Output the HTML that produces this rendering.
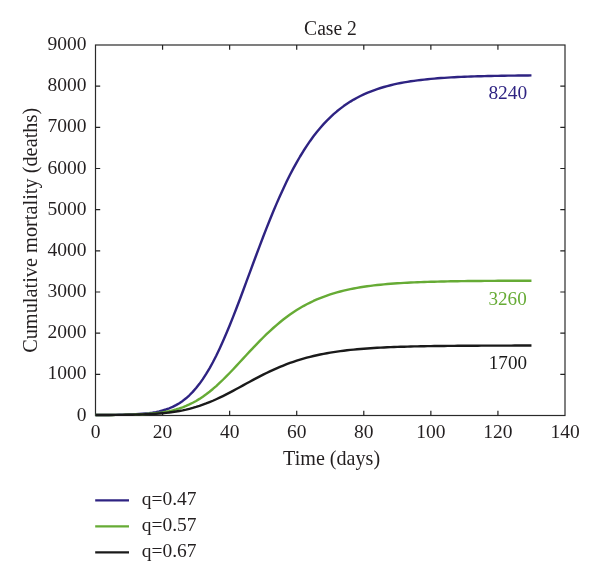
<!DOCTYPE html>
<html lang="en">
<head>
<meta charset="utf-8">
<title>Case 2</title>
<style>
html,body{margin:0;padding:0;background:#fff;}
body{width:600px;height:583px;overflow:hidden;}
svg{display:block;will-change:transform;}
text{font-family:"Liberation Serif", "DejaVu Serif", serif;font-size:19.5px;fill:#231f20;}
</style>
</head>
<body>
<svg width="600" height="583" viewBox="0 0 600 583">
<rect x="0" y="0" width="600" height="583" fill="#ffffff"/>

<rect x="95.5" y="45.0" width="469.5" height="370.5" fill="none" stroke="#2a2a2a" stroke-width="1.2"/>
<path d="M162.57,415.5 V410.8 M162.57,45.0 V49.7 M229.64,415.5 V410.8 M229.64,45.0 V49.7 M296.71,415.5 V410.8 M296.71,45.0 V49.7 M363.79,415.5 V410.8 M363.79,45.0 V49.7 M430.86,415.5 V410.8 M430.86,45.0 V49.7 M497.93,415.5 V410.8 M497.93,45.0 V49.7 M95.5,374.33 H100.2 M565.0,374.33 H560.3 M95.5,333.17 H100.2 M565.0,333.17 H560.3 M95.5,292.00 H100.2 M565.0,292.00 H560.3 M95.5,250.83 H100.2 M565.0,250.83 H560.3 M95.5,209.67 H100.2 M565.0,209.67 H560.3 M95.5,168.50 H100.2 M565.0,168.50 H560.3 M95.5,127.33 H100.2 M565.0,127.33 H560.3 M95.5,86.17 H100.2 M565.0,86.17 H560.3" stroke="#222222" stroke-width="1.2" fill="none"/>
<g fill="none" stroke-width="2.4" stroke-linejoin="round" stroke-linecap="butt">
<path d="M95.50,415.00 L98.85,414.99 L102.21,414.97 L105.56,414.96 L108.91,414.93 L112.27,414.90 L115.62,414.86 L118.97,414.81 L122.33,414.75 L125.68,414.67 L129.04,414.57 L132.39,414.44 L135.74,414.27 L139.10,414.07 L142.45,413.82 L145.80,413.50 L149.16,413.12 L152.51,412.64 L155.86,412.06 L159.22,411.36 L162.57,410.51 L165.93,409.49 L169.28,408.27 L172.63,406.84 L175.99,405.15 L179.34,403.18 L182.69,400.90 L186.05,398.28 L189.40,395.28 L192.75,391.89 L196.11,388.08 L199.46,383.83 L202.81,379.12 L206.17,373.95 L209.52,368.32 L212.88,362.22 L216.23,355.68 L219.58,348.71 L222.94,341.33 L226.29,333.58 L229.64,325.50 L233.00,317.13 L236.35,308.52 L239.70,299.70 L243.06,290.75 L246.41,281.70 L249.76,272.61 L253.12,263.52 L256.47,254.49 L259.82,245.56 L263.18,236.77 L266.53,228.15 L269.89,219.73 L273.24,211.56 L276.59,203.64 L279.95,195.99 L283.30,188.64 L286.65,181.59 L290.01,174.84 L293.36,168.42 L296.71,162.30 L300.07,156.50 L303.42,151.01 L306.77,145.83 L310.13,140.94 L313.48,136.33 L316.84,132.01 L320.19,127.95 L323.54,124.15 L326.90,120.60 L330.25,117.28 L333.60,114.18 L336.96,111.29 L340.31,108.59 L343.66,106.09 L347.02,103.76 L350.37,101.60 L353.73,99.59 L357.08,97.72 L360.43,96.00 L363.79,94.40 L367.14,92.91 L370.49,91.54 L373.85,90.27 L377.20,89.10 L380.55,88.01 L383.91,87.01 L387.26,86.08 L390.61,85.22 L393.97,84.43 L397.32,83.70 L400.68,83.03 L404.03,82.41 L407.38,81.83 L410.74,81.31 L414.09,80.82 L417.44,80.37 L420.80,79.95 L424.15,79.57 L427.50,79.22 L430.86,78.89 L434.21,78.59 L437.56,78.32 L440.92,78.06 L444.27,77.83 L447.62,77.61 L450.98,77.41 L454.33,77.23 L457.69,77.06 L461.04,76.91 L464.39,76.76 L467.75,76.63 L471.10,76.51 L474.45,76.40 L477.81,76.30 L481.16,76.20 L484.51,76.11 L487.87,76.03 L491.22,75.96 L494.57,75.89 L497.93,75.83 L501.28,75.77 L504.64,75.72 L507.99,75.67 L511.34,75.62 L514.70,75.58 L518.05,75.54 L521.40,75.51 L524.76,75.47 L528.11,75.44 L531.46,75.42" stroke="#2e2382"/>
<path d="M95.50,415.00 L98.85,414.99 L102.21,414.98 L105.56,414.97 L108.91,414.95 L112.27,414.93 L115.62,414.90 L118.97,414.87 L122.33,414.83 L125.68,414.77 L129.04,414.71 L132.39,414.62 L135.74,414.52 L139.10,414.40 L142.45,414.24 L145.80,414.05 L149.16,413.82 L152.51,413.54 L155.86,413.21 L159.22,412.81 L162.57,412.33 L165.93,411.77 L169.28,411.11 L172.63,410.34 L175.99,409.45 L179.34,408.43 L182.69,407.26 L186.05,405.93 L189.40,404.44 L192.75,402.78 L196.11,400.93 L199.46,398.90 L202.81,396.69 L206.17,394.29 L209.52,391.70 L212.88,388.95 L216.23,386.03 L219.58,382.96 L222.94,379.75 L226.29,376.42 L229.64,372.99 L233.00,369.48 L236.35,365.90 L239.70,362.29 L243.06,358.65 L246.41,355.02 L249.76,351.40 L253.12,347.83 L256.47,344.31 L259.82,340.86 L263.18,337.49 L266.53,334.22 L269.89,331.05 L273.24,327.99 L276.59,325.06 L279.95,322.24 L283.30,319.55 L286.65,316.99 L290.01,314.56 L293.36,312.25 L296.71,310.08 L300.07,308.02 L303.42,306.08 L306.77,304.26 L310.13,302.56 L313.48,300.96 L316.84,299.46 L320.19,298.07 L323.54,296.76 L326.90,295.55 L330.25,294.42 L333.60,293.37 L336.96,292.40 L340.31,291.49 L343.66,290.65 L347.02,289.87 L350.37,289.15 L353.73,288.49 L357.08,287.87 L360.43,287.30 L363.79,286.77 L367.14,286.29 L370.49,285.84 L373.85,285.42 L377.20,285.04 L380.55,284.69 L383.91,284.36 L387.26,284.06 L390.61,283.79 L393.97,283.53 L397.32,283.30 L400.68,283.08 L404.03,282.89 L407.38,282.70 L410.74,282.53 L414.09,282.38 L417.44,282.24 L420.80,282.11 L424.15,281.98 L427.50,281.87 L430.86,281.77 L434.21,281.68 L437.56,281.59 L440.92,281.51 L444.27,281.44 L447.62,281.37 L450.98,281.31 L454.33,281.25 L457.69,281.20 L461.04,281.15 L464.39,281.11 L467.75,281.07 L471.10,281.03 L474.45,281.00 L477.81,280.96 L481.16,280.94 L484.51,280.91 L487.87,280.88 L491.22,280.86 L494.57,280.84 L497.93,280.82 L501.28,280.80 L504.64,280.79 L507.99,280.77 L511.34,280.76 L514.70,280.75 L518.05,280.73 L521.40,280.72 L524.76,280.71 L528.11,280.71 L531.46,280.70" stroke="#66ab35"/>
<path d="M95.50,415.00 L98.85,414.99 L102.21,414.98 L105.56,414.97 L108.91,414.95 L112.27,414.93 L115.62,414.91 L118.97,414.88 L122.33,414.84 L125.68,414.80 L129.04,414.75 L132.39,414.69 L135.74,414.61 L139.10,414.52 L142.45,414.42 L145.80,414.29 L149.16,414.14 L152.51,413.96 L155.86,413.74 L159.22,413.50 L162.57,413.21 L165.93,412.87 L169.28,412.49 L172.63,412.05 L175.99,411.54 L179.34,410.97 L182.69,410.33 L186.05,409.61 L189.40,408.80 L192.75,407.92 L196.11,406.94 L199.46,405.88 L202.81,404.72 L206.17,403.48 L209.52,402.15 L212.88,400.74 L216.23,399.24 L219.58,397.68 L222.94,396.05 L226.29,394.36 L229.64,392.62 L233.00,390.84 L236.35,389.03 L239.70,387.20 L243.06,385.37 L246.41,383.53 L249.76,381.70 L253.12,379.89 L256.47,378.11 L259.82,376.36 L263.18,374.65 L266.53,372.99 L269.89,371.38 L273.24,369.82 L276.59,368.33 L279.95,366.89 L283.30,365.52 L286.65,364.21 L290.01,362.97 L293.36,361.79 L296.71,360.68 L300.07,359.62 L303.42,358.63 L306.77,357.70 L310.13,356.82 L313.48,356.00 L316.84,355.23 L320.19,354.51 L323.54,353.84 L326.90,353.22 L330.25,352.64 L333.60,352.10 L336.96,351.59 L340.31,351.13 L343.66,350.69 L347.02,350.29 L350.37,349.92 L353.73,349.58 L357.08,349.26 L360.43,348.96 L363.79,348.69 L367.14,348.44 L370.49,348.21 L373.85,347.99 L377.20,347.80 L380.55,347.61 L383.91,347.45 L387.26,347.29 L390.61,347.15 L393.97,347.02 L397.32,346.90 L400.68,346.78 L404.03,346.68 L407.38,346.59 L410.74,346.50 L414.09,346.42 L417.44,346.35 L420.80,346.28 L424.15,346.22 L427.50,346.16 L430.86,346.10 L434.21,346.06 L437.56,346.01 L440.92,345.97 L444.27,345.93 L447.62,345.90 L450.98,345.87 L454.33,345.84 L457.69,345.81 L461.04,345.78 L464.39,345.76 L467.75,345.74 L471.10,345.72 L474.45,345.70 L477.81,345.69 L481.16,345.67 L484.51,345.66 L487.87,345.64 L491.22,345.63 L494.57,345.62 L497.93,345.61 L501.28,345.60 L504.64,345.59 L507.99,345.59 L511.34,345.58 L514.70,345.57 L518.05,345.57 L521.40,345.56 L524.76,345.55 L528.11,345.55 L531.46,345.55" stroke="#1a1a1a"/>
</g>
<text x="95.50" y="438.3" text-anchor="middle" textLength="9.75" lengthAdjust="spacingAndGlyphs">0</text>
<text x="162.57" y="438.3" text-anchor="middle" textLength="19.5" lengthAdjust="spacingAndGlyphs">20</text>
<text x="229.64" y="438.3" text-anchor="middle" textLength="19.5" lengthAdjust="spacingAndGlyphs">40</text>
<text x="296.71" y="438.3" text-anchor="middle" textLength="19.5" lengthAdjust="spacingAndGlyphs">60</text>
<text x="363.79" y="438.3" text-anchor="middle" textLength="19.5" lengthAdjust="spacingAndGlyphs">80</text>
<text x="430.86" y="438.3" text-anchor="middle" textLength="29.25" lengthAdjust="spacingAndGlyphs">100</text>
<text x="497.93" y="438.3" text-anchor="middle" textLength="29.25" lengthAdjust="spacingAndGlyphs">120</text>
<text x="565.00" y="438.3" text-anchor="middle" textLength="29.25" lengthAdjust="spacingAndGlyphs">140</text>
<text x="86.6" y="420.50" text-anchor="end" textLength="9.75" lengthAdjust="spacingAndGlyphs">0</text>
<text x="86.6" y="379.33" text-anchor="end" textLength="39.0" lengthAdjust="spacingAndGlyphs">1000</text>
<text x="86.6" y="338.17" text-anchor="end" textLength="39.0" lengthAdjust="spacingAndGlyphs">2000</text>
<text x="86.6" y="297.00" text-anchor="end" textLength="39.0" lengthAdjust="spacingAndGlyphs">3000</text>
<text x="86.6" y="255.83" text-anchor="end" textLength="39.0" lengthAdjust="spacingAndGlyphs">4000</text>
<text x="86.6" y="214.67" text-anchor="end" textLength="39.0" lengthAdjust="spacingAndGlyphs">5000</text>
<text x="86.6" y="173.50" text-anchor="end" textLength="39.0" lengthAdjust="spacingAndGlyphs">6000</text>
<text x="86.6" y="132.33" text-anchor="end" textLength="39.0" lengthAdjust="spacingAndGlyphs">7000</text>
<text x="86.6" y="91.17" text-anchor="end" textLength="39.0" lengthAdjust="spacingAndGlyphs">8000</text>
<text x="86.6" y="50.00" text-anchor="end" textLength="39.0" lengthAdjust="spacingAndGlyphs">9000</text>
<text x="330.5" y="35" text-anchor="middle" textLength="52.8" lengthAdjust="spacingAndGlyphs" style="font-size:20.8px">Case 2</text>
<text x="331.6" y="464.6" text-anchor="middle" textLength="97" lengthAdjust="spacingAndGlyphs" style="font-size:20.3px">Time (days)</text>
<text transform="translate(36.8,230.35) rotate(-90)" x="0" y="0" text-anchor="middle" textLength="245" lengthAdjust="spacingAndGlyphs" style="font-size:21.3px">Cumulative mortality (deaths)</text>
<text x="527.2" y="99.2" text-anchor="end" textLength="38.8" lengthAdjust="spacingAndGlyphs" style="fill:#2e2382">8240</text>
<text x="526.7" y="304.5" text-anchor="end" textLength="38.2" lengthAdjust="spacingAndGlyphs" style="fill:#66ab35">3260</text>
<text x="527" y="368.6" text-anchor="end" textLength="38.2" lengthAdjust="spacingAndGlyphs" style="fill:#1a1a1a">1700</text>
<line x1="95.2" y1="500.4" x2="129" y2="500.4" stroke="#2e2382" stroke-width="2.4"/>
<text x="141.8" y="505.2" textLength="54.8" lengthAdjust="spacingAndGlyphs">q=0.47</text>
<line x1="95.2" y1="526.4" x2="129" y2="526.4" stroke="#66ab35" stroke-width="2.4"/>
<text x="141.8" y="531.2" textLength="54.8" lengthAdjust="spacingAndGlyphs">q=0.57</text>
<line x1="95.2" y1="552.4" x2="129" y2="552.4" stroke="#1a1a1a" stroke-width="2.4"/>
<text x="141.8" y="557.2" textLength="54.8" lengthAdjust="spacingAndGlyphs">q=0.67</text>
</svg>
</body>
</html>
